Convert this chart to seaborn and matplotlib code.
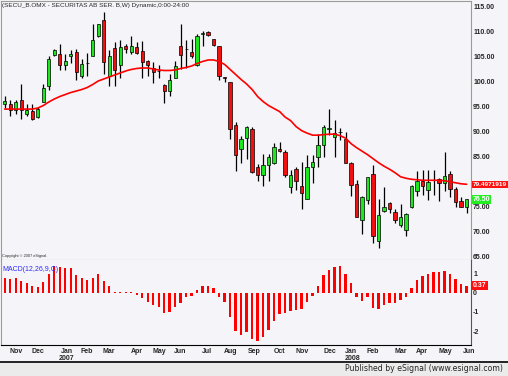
import matplotlib
matplotlib.use("Agg")
import matplotlib.pyplot as plt
from matplotlib.patches import Rectangle
from matplotlib.lines import Line2D
import matplotlib.transforms as mtrans
import seaborn as sns
import numpy as np
import pandas as pd

# weekly candles, Oct 2006 .. Jun 2008
opens = [95.6, 95.5, 94.3, 96.4, 93.6, 94.2, 93.0, 96.0, 99.2, 105.2,
         105.5, 103.2, 105.0, 105.8, 101.2, 103.6, 105.1, 109.0, 112.3, 101.2,
         106.7, 103.2, 107.1, 105.8, 106.8, 106.1, 104.0, 102.6, 102.0, 99.4,
         98.2, 100.7, 107.0, 106.5, 105.8, 103.2, 109.5, 109.9, 108.4, 107.0,
         100.9, 99.9, 91.3, 86.5, 88.7, 90.6, 82.9, 81.3, 83.4, 83.7,
         86.6, 85.9, 79.0, 82.6, 79.2, 76.5, 82.9, 84.9, 87.4, 90.6,
         88.9, 89.9, 88.6, 83.8, 79.5, 72.4, 76.4, 81.5, 68.2, 74.1,
         75.7, 74.0, 71.3, 70.4, 74.9, 78.2, 80.2, 78.4, 80.3, 80.5,
         79.8, 81.5, 78.6, 76.2, 75.0]
highs = [97.1, 96.4, 96.4, 99.5, 95.6, 95.5, 95.0, 99.6, 105.0, 106.4,
         107.5, 105.5, 106.3, 106.4, 104.4, 105.6, 111.4, 111.5, 113.9, 106.2,
         107.8, 108.3, 107.5, 109.1, 107.8, 108.1, 104.2, 103.9, 103.2, 99.5,
         101.5, 104.0, 111.5, 108.3, 108.4, 109.5, 110.1, 110.0, 108.5, 107.0,
         101.0, 100.0, 91.9, 89.1, 91.1, 90.9, 83.5, 85.5, 85.5, 87.8,
         87.9, 86.3, 82.4, 83.0, 83.9, 85.4, 85.3, 89.5, 91.3, 94.5,
         92.3, 90.7, 90.0, 83.9, 80.3, 77.2, 81.0, 83.3, 76.6, 79.0,
         76.0, 74.6, 75.6, 73.8, 79.3, 82.2, 82.3, 82.3, 82.3, 80.7,
         85.9, 82.1, 78.9, 77.0, 76.6]
lows = [94.8, 93.1, 93.6, 92.6, 93.1, 92.4, 92.8, 95.9, 98.4, 105.0,
        102.3, 102.3, 103.6, 100.4, 100.7, 101.2, 105.0, 108.9, 101.4, 99.2,
        99.1, 100.8, 105.6, 105.5, 105.5, 100.8, 101.1, 99.8, 100.8, 95.8,
        97.2, 100.7, 102.4, 102.6, 104.6, 103.0, 107.0, 109.0, 107.0, 100.3,
        100.0, 88.5, 82.2, 83.7, 84.6, 81.8, 80.2, 79.2, 80.1, 83.5,
        85.9, 81.0, 77.8, 78.4, 74.5, 76.5, 79.7, 82.9, 85.0, 89.3,
        84.9, 88.3, 83.7, 77.2, 72.9, 69.6, 75.6, 67.7, 66.7, 74.0,
        73.7, 71.7, 70.9, 69.2, 74.8, 77.2, 77.3, 76.4, 77.3, 76.2,
        78.2, 76.9, 75.0, 74.9, 73.8]
closes = [96.2, 94.4, 96.0, 94.3, 94.3, 92.6, 94.6, 98.7, 104.4, 106.2,
          103.2, 104.0, 105.5, 101.8, 103.4, 103.7, 108.2, 111.5, 103.9, 105.0,
          102.3, 106.9, 106.4, 107.0, 105.6, 103.9, 103.2, 101.9, 102.0, 98.2,
          100.3, 103.1, 105.2, 106.4, 105.0, 109.1, 109.5, 109.2, 107.2, 101.1,
          100.8, 90.5, 85.4, 88.6, 90.9, 82.0, 81.3, 83.3, 84.9, 86.9,
          86.1, 81.3, 81.3, 80.2, 77.8, 82.9, 84.0, 87.3, 90.9, 90.6,
          89.8, 89.9, 83.8, 79.3, 72.9, 77.0, 80.9, 69.2, 73.3, 74.9,
          74.5, 72.4, 73.0, 73.6, 79.2, 80.2, 79.2, 80.0, 80.3, 79.7,
          81.2, 78.5, 76.0, 74.9, 76.5]
moving_avg = [94.5, 94.5, 94.5, 94.5, 94.5, 94.5, 94.7, 95.2, 95.9, 96.5,
              97.0, 97.4, 97.8, 98.1, 98.4, 98.8, 99.4, 100.1, 100.5, 100.9,
              101.3, 101.7, 102.1, 102.4, 102.6, 102.7, 102.7, 102.5, 102.3, 102.2,
              102.2, 102.3, 102.6, 102.8, 103.1, 103.6, 104.0, 104.3, 104.3, 104.0,
              103.4, 102.4, 101.4, 100.4, 99.5, 98.4, 97.0, 96.0, 95.2, 94.6,
              94.0, 92.9, 92.2, 91.0, 90.2, 89.7, 89.3, 89.3, 89.4, 89.5,
              89.5, 89.2, 88.7, 87.6, 86.8, 86.1, 85.4, 84.6, 83.8, 83.1,
              82.5, 81.8, 81.0, 80.7, 80.5, 80.4, 80.3, 80.3, 80.3, 80.3,
              80.2, 80.0, 79.8, 79.6, 79.5]
macd_hist = [0.80, 0.73, 0.77, 0.63, 0.52, 0.35, 0.31, 0.56, 1.01, 1.40,
             1.33, 1.29, 1.29, 0.91, 0.80, 0.66, 0.80, 1.01, 0.63, 0.38,
             0.03, 0.03, 0.03, 0.02, -0.10, -0.28, -0.49, -0.66, -0.73, -1.05,
             -0.98, -0.73, -0.52, -0.24, -0.14, 0.14, 0.35, 0.38, 0.24, -0.21,
             -0.49, -1.29, -2.02, -2.23, -2.06, -2.41, -2.51, -2.30, -1.95, -1.47,
             -1.12, -1.05, -0.94, -0.91, -0.87, -0.49, -0.14, 0.35, 0.91, 1.22,
             1.36, 1.43, 1.01, 0.49, -0.24, -0.42, -0.24, -0.77, -0.84, -0.66,
             -0.52, -0.52, -0.38, -0.21, 0.24, 0.66, 0.87, 1.01, 1.08, 1.08,
             1.15, 0.98, 0.70, 0.45, 0.37]
month_labels = ["Nov", "Dec", "Jan", "Feb", "Mar", "Apr", "May", "Jun", "Jul", "Aug",
                "Sep", "Oct", "Nov", "Dec", "Jan", "Feb", "Mar", "Apr", "May", "Jun"]
month_pos = [2.05, 6.1, 11.3, 15.0, 19.0, 24.0, 28.1, 32.0, 36.8, 41.0,
             45.4, 49.9, 54.0, 59.1, 62.9, 67.0, 72.0, 75.8, 80.2, 84.4]
years = ["2007", "2008"]
year_pos = [11.3, 63.2]
price_ticks = [65, 70, 75, 85, 90, 95, 100, 105, 110, 115]   # 80 sits under the MA box
last_ma = "79.4971919"
last_close = "76.50"
last_macd = "0.37"

df = pd.DataFrame({"week": np.arange(len(opens)), "open": opens, "high": highs,
                   "low": lows, "close": closes, "ma": moving_avg, "macd": macd_hist})

sns.set_style("white")
plt.rcParams['font.family'] = ['Liberation Sans', 'DejaVu Sans']

BG = '#f5f4f8'
fig = plt.figure(figsize=(5.08, 3.76), dpi=100, facecolor=BG)
W, H = 508, 376
ax = fig.add_axes([1 / W, 1 - 260 / H, 470 / W, 259 / H], facecolor=BG)
ax2 = fig.add_axes([1 / W, 1 - 345 / H, 470 / W, 85 / H], facecolor=BG, sharex=ax)

# candles
up = df['close'] >= df['open']
body_lo = np.minimum(df['open'], df['close'])
body_h = np.maximum(np.abs(df['close'] - df['open']), 0.12)
cols = np.where(up, '#1ee61e', '#f01010')
ax.vlines(df['week'], df['low'], df['high'], color='black', lw=0.9, zorder=2)
ax.bar(df['week'], body_h, bottom=body_lo, width=0.6, color=cols,
       edgecolor='black', linewidth=0.5, zorder=3)
sns.lineplot(data=df, x='week', y='ma', ax=ax, color='#ff0000', lw=1.2, zorder=4)

# MACD histogram
sns.barplot(data=df, x='week', y='macd', ax=ax2, native_scale=True, width=0.42,
            color='#ff0000', saturation=1, errorbar=None, zorder=3,
            linewidth=0, antialiased=False)

ax.set_xlim(-0.67, 84.8)
ax.set_ylim(64.4, 116.06)
ax2.set_ylim(-2.73, 1.72)

for a in (ax, ax2):
    a.set_xlabel("")
    a.set_ylabel("")
    a.yaxis.tick_right()
    a.tick_params(axis='y', length=0, pad=1.5, labelsize=5)
    for s in a.spines.values():
        s.set_color('#9a9a9a')
        s.set_linewidth(0.8)

ax.set_yticks(price_ticks)
ax.set_yticklabels([f"{v:.2f}" for v in price_ticks], fontsize=5, fontweight='bold')
ax.tick_params(axis='x', bottom=False, labelbottom=False)

ax2.set_yticks([-2, -1, 0, 1])
ax2.set_yticklabels(['-2', '-1', '0', '1'], fontsize=5, fontweight='bold')
ax2.set_xticks(month_pos)
ax2.set_xticklabels(month_labels, fontsize=5, fontweight='bold')
ax2.tick_params(axis='x', length=0, pad=2)
ax2.spines['bottom'].set_color('black')
ax2.spines['top'].set_visible(False)
ax2.spines['right'].set_color('#555555')

bt = mtrans.blended_transform_factory(ax2.transData, ax2.transAxes)
for yl, xp in zip(years, year_pos):
    ax2.text(xp, -0.155, yl, transform=bt, ha='center', va='center',
             fontsize=5, fontweight='bold')

# texts
ax.text(0.002, 0.994, "(SECU_B.OMX - SECURITAS AB SER. B,W) Dynamic,0:00-24:00",
        transform=ax.transAxes, ha='left', va='top', fontsize=4.6,
        family=['Liberation Sans Narrow', 'Liberation Sans'])
ax.text(0.003, 0.006, "Copyright \u00a9 2007 eSignal.", transform=ax.transAxes,
        ha='left', va='bottom', fontsize=2.8)
ax2.text(0.003, 0.93, "MACD(12,26,9,C)", transform=ax2.transAxes, ha='left',
         va='top', fontsize=5, color='#2b2bff')

# last value boxes
bt1 = mtrans.blended_transform_factory(ax.transAxes, ax.transData)
ax.text(1.004, moving_avg[-1], last_ma, transform=bt1, ha='left', va='center',
        fontsize=4.6, fontweight='bold', color='white',
        family=['Liberation Sans Narrow', 'Liberation Sans'],
        bbox=dict(boxstyle='square,pad=0.15', fc='#ff1010', ec='none'), zorder=10)
ax.text(1.004, closes[-1], last_close, transform=bt1, ha='left', va='center',
        fontsize=5, fontweight='bold', color='white',
        bbox=dict(boxstyle='square,pad=0.15', fc='#22ee22', ec='none'), zorder=10)
bt2 = mtrans.blended_transform_factory(ax2.transAxes, ax2.transData)
ax2.text(1.004, macd_hist[-1], last_macd, transform=bt2, ha='left', va='center',
         fontsize=5, fontweight='bold', color='white',
         bbox=dict(boxstyle='square,pad=0.15', fc='#ff1010', ec='none'), zorder=10)

# footer strip
fig.add_artist(Rectangle((0, 0), 1, 14 / H, transform=fig.transFigure,
                         facecolor='#ebebeb', edgecolor='none'))
fig.add_artist(Line2D([0, 1], [14 / H, 14 / H], transform=fig.transFigure,
                      color='black', lw=1.2))
fig.text(503 / W, 7.5 / H, "Published by eSignal (www.esignal.com)", ha='right',
         va='center', fontsize=5.6, family=['DejaVu Sans'])

plt.savefig('out.png', dpi=100, facecolor=BG)
